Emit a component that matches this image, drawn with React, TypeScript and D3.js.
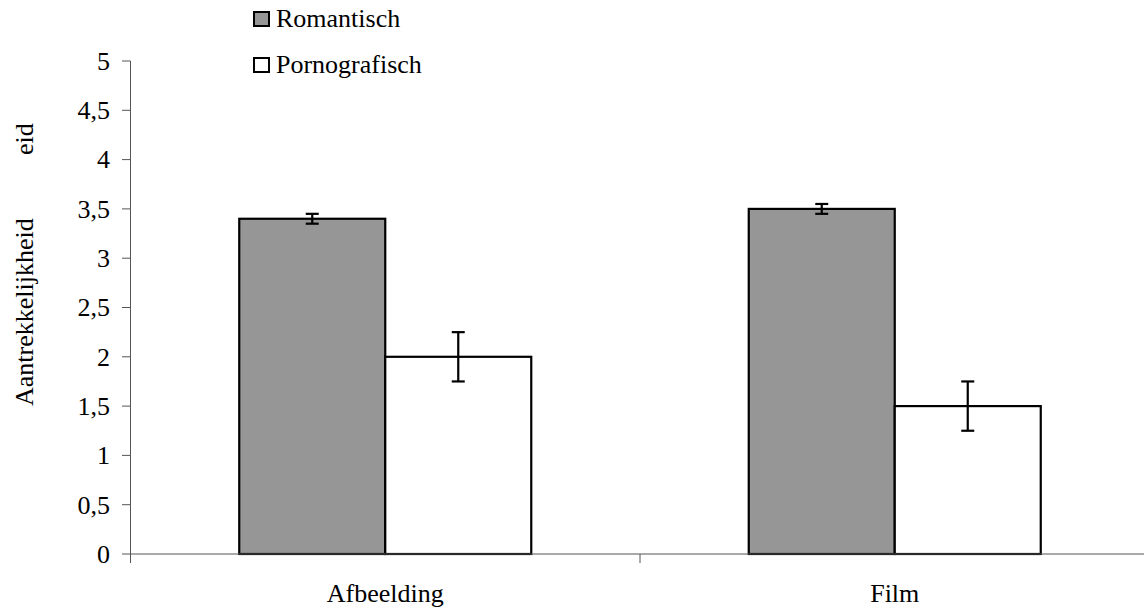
import React from "react";
import * as d3 from "d3";

const categories = ["Afbeelding", "Film"];
const seriesNames = ["Romantisch", "Pornografisch"];
const romantisch = [3.4, 3.5];
const pornografisch = [2.0, 1.5];
const romantischErr = [0.05, 0.05];
const pornografischErr = [0.25, 0.25];
const yTicks = [0, 0.5, 1, 1.5, 2, 2.5, 3, 3.5, 4, 4.5, 5];
const yTitleMain = "Aantrekkelijkheid";
const yTitleTail = "eid";

const seriesValues = [romantisch, pornografisch];
const seriesErrors = [romantischErr, pornografischErr];
const seriesFill = ["#969696", "#ffffff"];

const W = 1144;
const H = 609;
const txt = { fontFamily: "Liberation Serif" };

export default function App() {
  const y = d3.scaleLinear().domain([0, 5]).range([554, 61]);
  const x0 = d3.scaleBand<string>().domain(categories).range([130.5, 1149.5]);
  const barW = 146;
  const x1 = d3
    .scaleBand<string>()
    .domain(seriesNames)
    .range([0, x0.bandwidth()])
    .paddingInner(0)
    .paddingOuter((x0.bandwidth() / barW - 2) / 2);
  const fmt = (v: number) => String(v).replace(".", ",");
  const axisColor = "#555";
  const y0 = y(0);
  const FS = 26;

  return (
    <svg
      width={W}
      height={H}
      style={{ position: "absolute", left: 0, top: 0, background: "#fff" }}
    >
      {/* y axis */}
      <line x1={130.5} x2={130.5} y1={y(5)} y2={y0 + 9} stroke={axisColor} strokeWidth={1} />
      {yTicks.map((t) => (
        <g key={t}>
          <line x1={122} x2={130.5} y1={y(t)} y2={y(t)} stroke={axisColor} strokeWidth={1} />
          <text x={110} y={y(t)} dy="0.34em" textAnchor="end" fontSize={FS} style={txt} fill="#000">
            {fmt(t)}
          </text>
        </g>
      ))}
      {/* bars */}
      {categories.map((c, ci) => (
        <g key={c} transform={`translate(${x0(c)},0)`}>
          {seriesNames.map((s, si) => {
            const v = seriesValues[si][ci];
            return (
              <rect
                key={s}
                x={x1(s)}
                y={y(v)}
                width={x1.bandwidth()}
                height={y0 - y(v)}
                fill={seriesFill[si]}
                stroke="#000"
                strokeWidth={2.2}
              />
            );
          })}
        </g>
      ))}
      {/* x axis */}
      <line x1={130.5} x2={W} y1={y0} y2={y0} stroke={axisColor} strokeWidth={1} />
      {categories.map((c) => (
        <line
          key={c + "t"}
          x1={(x0(c) as number) + x0.bandwidth()}
          x2={(x0(c) as number) + x0.bandwidth()}
          y1={y0}
          y2={y0 + 9}
          stroke={axisColor}
          strokeWidth={1}
        />
      ))}
      {/* error bars */}
      {categories.map((c, ci) => (
        <g key={c + "e"} transform={`translate(${x0(c)},0)`}>
          {seriesNames.map((s, si) => {
            const v = seriesValues[si][ci];
            const e = seriesErrors[si][ci];
            const cx = (x1(s) as number) + x1.bandwidth() / 2;
            const cap = 6.5;
            return (
              <g key={s} stroke="#000" strokeWidth={2.2}>
                <line x1={cx} x2={cx} y1={y(v + e)} y2={y(v - e)} />
                <line x1={cx - cap} x2={cx + cap} y1={y(v + e)} y2={y(v + e)} />
                <line x1={cx - cap} x2={cx + cap} y1={y(v - e)} y2={y(v - e)} />
              </g>
            );
          })}
        </g>
      ))}
      {/* category labels */}
      {categories.map((c) => (
        <text
          key={c + "l"}
          x={(x0(c) as number) + x0.bandwidth() / 2}
          y={602}
          textAnchor="middle"
          fontSize={FS}
          style={txt}
          fill="#000"
        >
          {c}
        </text>
      ))}
      {/* y title */}
      <g transform="translate(33,406) rotate(-90)">
        <text x={0} y={0} fontSize={FS} style={txt} fill="#000">
          {yTitleMain}
        </text>
        <text x={251} y={0} fontSize={FS} style={txt} fill="#000">
          {yTitleTail}
        </text>
      </g>
      {/* legend */}
      {seriesNames.map((s, si) => (
        <g key={s + "leg"} transform={`translate(0,${si * 46})`}>
          <rect x={254} y={12} width={15} height={14} fill={seriesFill[si]} stroke="#000" strokeWidth={2} />
          <text x={276} y={27} fontSize={FS} style={txt} fill="#000">
            {s}
          </text>
        </g>
      ))}
    </svg>
  );
}
